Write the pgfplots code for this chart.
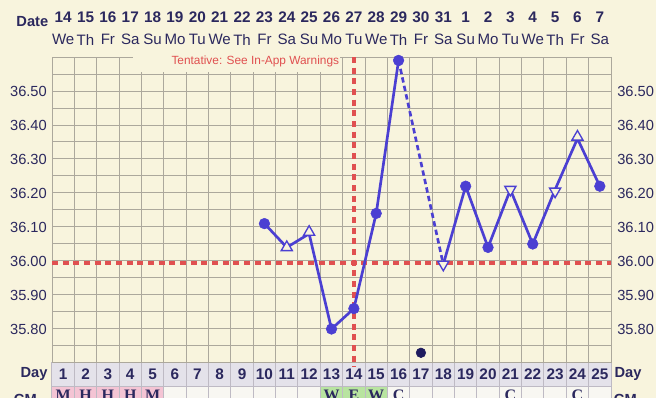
\documentclass[border=0pt]{standalone}
\usepackage{pgfplots}
\pgfplotsset{compat=1.18}
\usepackage{fontspec}
\setmainfont{Liberation Sans}
\newfontfamily\cmfont{Liberation Serif}
\definecolor{bgc}{RGB}{248,244,221}
\definecolor{gridc}{RGB}{172,168,156}
\definecolor{linec}{RGB}{75,63,210}
\definecolor{redc}{RGB}{224,80,80}
\definecolor{navy}{RGB}{43,40,94}
\definecolor{dotc}{RGB}{30,27,94}
\definecolor{dayc}{RGB}{228,226,234}
\definecolor{dayb}{RGB}{190,186,196}
\definecolor{pinkc}{RGB}{244,196,212}
\definecolor{greenc}{RGB}{184,228,160}
\definecolor{cmc}{RGB}{248,247,242}
% x: day -> pt ; y: temp -> pt
\def\XP#1{{((#1)-0.5)*16.77pt}}
\def\YP#1{{((#1)-35.70)*255pt}}
\begin{document}
\begin{tikzpicture}
\path[use as bounding box, fill=bgc] (-39pt,-26.25pt) rectangle (453pt,272.25pt);
% Day row and CM row
\foreach \d in {1,...,25}{
  \filldraw[fill=dayc, draw=dayb, line width=0.75pt] ({(\d-1)*16.77pt},{-17.4pt}) rectangle ({\d*16.77pt},0pt);
  \filldraw[fill=cmc, draw=dayb, line width=0.75pt] ({(\d-1)*16.77pt},{-40pt}) rectangle ({\d*16.77pt},{-17.4pt});
  \node[text=navy, font=\fontsize{11.5pt}{13pt}\selectfont\bfseries] at ({(\d-0.5)*16.77pt},{-8.4pt}) {\d};
}
\foreach \d in {1,...,5}{
  \filldraw[fill=pinkc, draw=dayb, line width=0.75pt] ({(\d-1)*16.77pt},{-40pt}) rectangle ({\d*16.77pt},{-17.4pt});
}
\foreach \d in {13,14,15}{
  \filldraw[fill=greenc, draw=dayb, line width=0.75pt] ({(\d-1)*16.77pt},{-40pt}) rectangle ({\d*16.77pt},{-17.4pt});
}
\foreach \d/\l in {1/M,2/H,3/H,4/H,5/M,13/W,14/E,15/W,16/C,21/C,24/C}{
  \node[text=navy, font=\cmfont\fontsize{12pt}{13pt}\selectfont\bfseries, anchor=north, inner sep=0pt] at ({(\d-0.5)*16.77pt},{-20pt}) {\l};
}
\node[text=navy, font=\fontsize{11pt}{13pt}\selectfont\bfseries] at (-13.5pt,-8.2pt) {Day};
\node[text=navy, font=\fontsize{11pt}{13pt}\selectfont\bfseries] at (432pt,-8.2pt) {Day};
\node[text=navy, font=\fontsize{11pt}{13pt}\selectfont\bfseries, anchor=north] at (-20pt,-20pt) {CM};
\node[text=navy, font=\fontsize{11pt}{13pt}\selectfont\bfseries, anchor=north] at (430pt,-20pt) {CM};
\begin{axis}[
  at={(0,0)}, anchor=south west,
  scale only axis, width=419.25pt, height=229.5pt,
  xmin=0.5, xmax=25.5, ymin=35.70, ymax=36.60,
  xtick={0.5,1.5,...,25.5}, ytick={35.70,35.75,...,36.61},
  xticklabels={}, yticklabels={}, major tick length=0pt,
  grid=major, grid style={color=gridc, line width=0.75pt},
  axis line style={color=gridc, line width=0.75pt},
  clip=false,
]
% Cover line and ovulation line
\addplot[redc, line width=2.8pt, dash pattern=on 4.5pt off 3.5pt] coordinates {(0.5,35.995) (25.5,35.995)};
\addplot[redc, line width=2.8pt, dash pattern=on 4.5pt off 3.5pt] coordinates {(14,36.60) (14,35.69)};
% Temperature lines
\addplot[linec, line width=2pt] coordinates {(10,36.11) (11,36.04) (12,36.08) (13,35.80) (14,35.86) (15,36.14) (16,36.59)};
\addplot[linec, line width=2pt, dash pattern=on 4pt off 2.5pt] coordinates {(16,36.59) (18,35.99)};
\addplot[linec, line width=2pt] coordinates {(18,35.99) (19,36.22) (20,36.04) (21,36.21) (22,36.05) (23,36.21) (24,36.36) (25,36.22)};
% Markers
\addplot[only marks, mark=*, mark size=4pt, mark options={fill=linec, draw=linec}] coordinates {(10,36.11) (13,35.80) (14,35.86) (15,36.14) (16,36.59) (19,36.22) (20,36.04) (22,36.05) (25,36.22)};
\addplot[only marks, mark=triangle*, mark size=4.8pt, mark options={fill=bgc, draw=linec, line width=1pt}] coordinates {(11,36.04) (12,36.085) (24,36.365)};
\addplot[only marks, mark=triangle*, mark size=4.8pt, mark options={fill=bgc, draw=linec, line width=1pt, rotate=180}] coordinates {(18,35.99) (21,36.21) (23,36.205)};
\addplot[only marks, mark=*, mark size=3.6pt, mark options={fill=dotc, draw=dotc}] coordinates {(17,35.73)};
\end{axis}
% label box covering top row
\fill[bgc] ({3.62*16.77pt},{0.855*255pt}) rectangle ({12.9*16.77pt},{0.95*255pt});
\node[anchor=east, text=redc, font=\fontsize{8.9pt}{10pt}\selectfont, inner sep=0pt] at ({12.85*16.77pt},{0.887*255pt}) {Tentative: See In-App Warnings};
% Date header
\node[text=navy, font=\fontsize{11pt}{13pt}\selectfont\bfseries] at ({-0.88*16.77pt},{1.003*255pt}) {Date};
\foreach \d/\n/\w in {1/14/We,2/15/Th,3/16/Fr,4/17/Sa,5/18/Su,6/19/Mo,7/20/Tu,8/21/We,9/22/Th,10/23/Fr,11/24/Sa,12/25/Su,13/26/Mo,14/27/Tu,15/28/We,16/29/Th,17/30/Fr,18/31/Sa,19/1/Su,20/2/Mo,21/3/Tu,22/4/We,23/5/Th,24/6/Fr,25/7/Sa}{
  \node[text=navy, font=\fontsize{11.5pt}{13pt}\selectfont\bfseries] at ({(\d-0.5)*16.77pt},{1.016*255pt}) {\n};
  \node[text=navy, font=\fontsize{11.3pt}{13pt}\selectfont] at ({(\d-0.5)*16.77pt},{0.951*255pt}) {\w};
}
% Y labels
\foreach \v/\t in {0.10/35.80,0.20/35.90,0.30/36.00,0.40/36.10,0.50/36.20,0.60/36.30,0.70/36.40,0.80/36.50}{
  \node[text=navy, anchor=east, inner sep=0pt, font=\fontsize{11pt}{13pt}\selectfont] at ({-3.7pt},{\v*255pt}) {\t};
  \node[text=navy, anchor=west, inner sep=0pt, font=\fontsize{11pt}{13pt}\selectfont] at ({423.8pt},{\v*255pt}) {\t};
}
\end{tikzpicture}
\end{document}
